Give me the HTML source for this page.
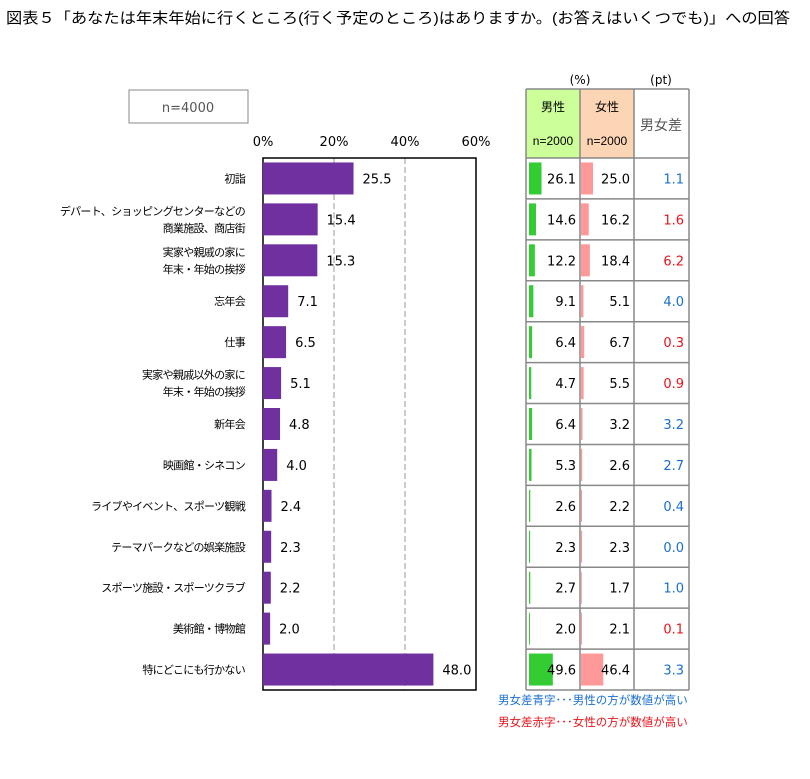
<!DOCTYPE html>
<html><head><meta charset="utf-8">
<style>
body{margin:0;background:#fff;font-family:"Liberation Sans","Noto Sans CJK JP",sans-serif;}
svg text{font-family:"Liberation Sans","Noto Sans CJK JP",sans-serif;}
svg text.num{font-family:"DejaVu Sans","Noto Sans CJK JP",sans-serif;}
svg text.cat{letter-spacing:-0.7px;}
</style></head>
<body>
<svg id="c" width="810" height="774" xmlns="http://www.w3.org/2000/svg">
<text x="6" y="23" font-size="15" fill="#000" textLength="784" lengthAdjust="spacingAndGlyphs">図表５「あなたは年末年始に行くところ(行く予定のところ)はありますか。(お答えはいくつでも)」への回答</text>
<rect x="129" y="90" width="119" height="33" fill="#fff" stroke="#888"/>
<text class="num" x="188" y="112" font-size="13" fill="#555" text-anchor="middle">n=4000</text>
<g id="plot"></g>
<g id="table"></g>
<text x="498" y="704" font-size="11.5" fill="#1a6fd0">男女差青字･･･男性の方が数値が高い</text>
<text x="498" y="726" font-size="11.5" fill="#e8141c">男女差赤字･･･女性の方が数値が高い</text>
</svg>
<script>
const categories=[["初詣"],["デパート、ショッピングセンターなどの","商業施設、商店街"],["実家や親戚の家に","年末・年始の挨拶"],["忘年会"],["仕事"],["実家や親戚以外の家に","年末・年始の挨拶"],["新年会"],["映画館・シネコン"],["ライブやイベント、スポーツ観戦"],["テーマパークなどの娯楽施設"],["スポーツ施設・スポーツクラブ"],["美術館・博物館"],["特にどこにも行かない"]];
const totalValues=[25.5,15.4,15.3,7.1,6.5,5.1,4.8,4.0,2.4,2.3,2.2,2.0,48.0];
const maleValues=[26.1,14.6,12.2,9.1,6.4,4.7,6.4,5.3,2.6,2.3,2.7,2.0,49.6];
const femaleValues=[25.0,16.2,18.4,5.1,6.7,5.5,3.2,2.6,2.2,2.3,1.7,2.1,46.4];
const diffValues=["1.1","1.6","6.2","4.0","0.3","0.9","3.2","2.7","0.4","0.0","1.0","0.1","3.3"];
const diffSign=[1,-1,-1,1,-1,-1,1,1,1,1,1,-1,1];
const xTicks=[0,20,40,60];
const xTickLabels=["0%","20%","40%","60%"];

const NS="http://www.w3.org/2000/svg";
function mk(parent,tag,attrs,text){const e=document.createElementNS(NS,tag);for(const k in attrs)e.setAttribute(k,attrs[k]);if(text!==undefined)e.textContent=text;parent.appendChild(e);return e;}
const x0=263,x1=476,yTop=158,yBot=690;
const xs=v=>x0+(x1-x0)*v/60;
const rowH=(yBot-yTop)/categories.length;
const yc=i=>yTop+rowH*(i+0.5);
const plot=document.getElementById('plot');
xTicks.forEach((t,i)=>{
  if(i>0&&i<xTicks.length-1){const g=mk(plot,'line',{x1:xs(t),x2:xs(t),y1:yTop,y2:yBot,stroke:'#999','stroke-dasharray':'6,3'});
  
  }
  const l=mk(plot,'text',{class:'num',x:xs(t),y:146,'font-size':13,'text-anchor':'middle',fill:'#000'},xTickLabels[i]);
  
  
});
const fr=mk(plot,'rect',{x:x0,y:yTop,width:x1-x0,height:yBot-yTop,fill:'none',stroke:'#000','stroke-width':1.5});


categories.forEach((c,i)=>{
  const y=yc(i);
  const b=mk(plot,'rect',{x:x0,y:y-16,width:xs(totalValues[i])-x0,height:32,fill:'#7030a0'});
  
  
  const v=mk(plot,'text',{class:'num',x:xs(totalValues[i])+9,y:y+5,'font-size':13,fill:'#000'},totalValues[i].toFixed(1));
  
  
  c.forEach((line,k)=>{
    const t=mk(plot,'text',{class:'cat',x:245,y:y+4+(k-(c.length-1)/2)*17,'font-size':11,'text-anchor':'end',fill:'#000'},line);
    
    
  });
});
const tb=document.getElementById('table');
const tx=[526,580,634,689],htop=89;
const hm=mk(tb,'rect',{x:526,y:htop,width:54,height:yTop-htop,fill:'#ccff99'});

const hf=mk(tb,'rect',{x:580,y:htop,width:54,height:yTop-htop,fill:'#fcd5b4'});

[["(%)",580,84],["(pt)",661,84]].forEach(a=>{const t=mk(tb,'text',{class:'num',x:a[1],y:a[2],'font-size':12,'text-anchor':'middle'},a[0]);});
[["男性",553,111],["女性",607,111],["n=2000",553,145],["n=2000",607,145]].forEach(a=>{const t=mk(tb,'text',{x:a[1],y:a[2],'font-size':12,'text-anchor':'middle',fill:'#000'},a[0]);});
const hd=mk(tb,'text',{x:661,y:130,'font-size':14,'text-anchor':'middle',fill:'#555'},'男女差');

const cs=v=>v*0.48;
categories.forEach((c,i)=>{
  const y=yc(i);
  const mb=mk(tb,'rect',{x:529,y:y-16,width:cs(maleValues[i]),height:32,fill:'#33cc33'});
  
  const fb=mk(tb,'rect',{x:581,y:y-16,width:cs(femaleValues[i]),height:32,fill:'#ff9999'});
  
  const mt=mk(tb,'text',{class:'num',x:576,y:y+5,'font-size':13,'text-anchor':'end'},maleValues[i].toFixed(1));
  
  const ft=mk(tb,'text',{class:'num',x:630,y:y+5,'font-size':13,'text-anchor':'end'},femaleValues[i].toFixed(1));
  
  const dt=mk(tb,'text',{class:'num',x:684,y:y+5,'font-size':13,'text-anchor':'end',fill:diffSign[i]>0?'#1a6fd0':'#e8141c'},diffValues[i]);
  
});
for(let i=0;i<=categories.length;i++){
  const l=mk(tb,'line',{x1:526,x2:689,y1:yTop+rowH*i,y2:yTop+rowH*i,stroke:'#888','stroke-width':1.5});
  
}
const l0=mk(tb,'line',{x1:526,x2:689,y1:htop,y2:htop,stroke:'#888','stroke-width':1.5});

tx.forEach(x=>{const l=mk(tb,'line',{x1:x,x2:x,y1:htop,y2:yBot,stroke:'#888','stroke-width':1.5});});
</script>
</body></html>
